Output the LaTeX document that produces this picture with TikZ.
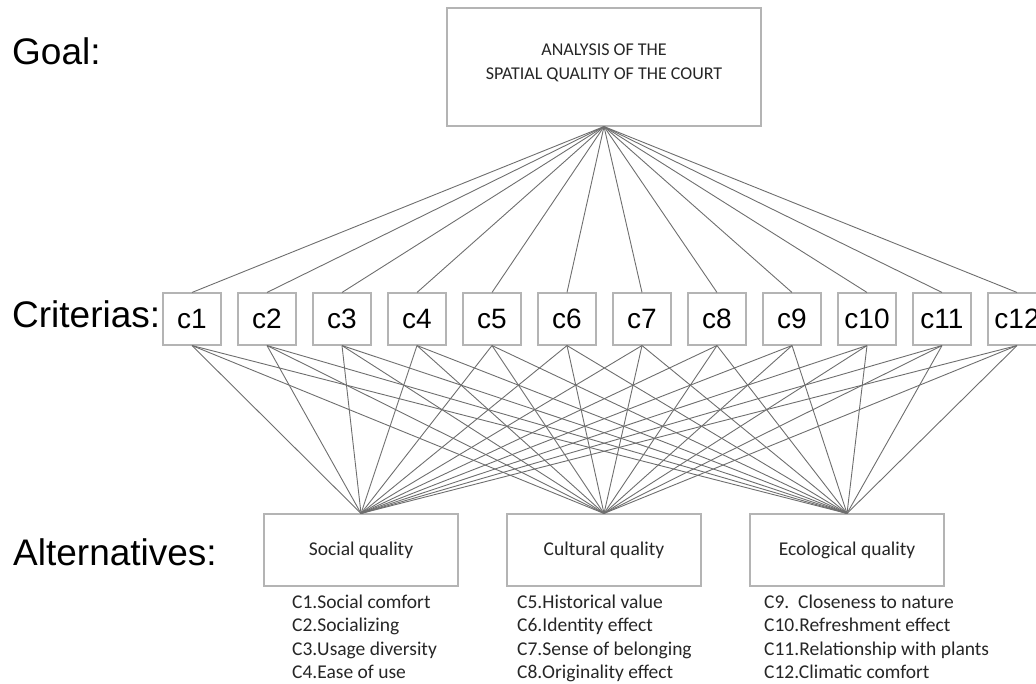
\documentclass[tikz,border=0pt]{standalone}
\usepackage{fontspec}
\setmainfont{Carlito}
\newfontfamily\arialf{Liberation Sans}
\definecolor{boxgray}{HTML}{B4B4B4}
\definecolor{linegray}{HTML}{6E6E6E}
\definecolor{txtgray}{HTML}{262626}
\begin{document}
\begin{tikzpicture}[x=1pt,y=-1pt,
  box/.style={draw=boxgray, line width=1.1pt, inner sep=0pt, fill=white},
  critbox/.style={box, minimum width=58pt, minimum height=52pt, font=\arialf\fontsize{28}{30}\selectfont},
  altbox/.style={box, minimum width=194pt, minimum height=72pt, font=\fontsize{19.5}{22}\selectfont, text=txtgray},
  conn/.style={draw=linegray, line width=0.9pt},
  lab/.style={font=\arialf\fontsize{37}{44}\selectfont, anchor=base west, inner sep=0pt},
  item/.style={font=\fontsize{19.5}{22}\selectfont, text=txtgray, anchor=base west, inner sep=0pt},
  goaltxt/.style={font=\fontsize{18}{24}\selectfont, text=txtgray, anchor=base, inner sep=0pt}]
\useasboundingbox (0,0) rectangle (1036,683);

% level labels
\node[lab] (lgoal) at (12,64) {Goal:};
\node[lab] (lcrit) at (12,327) {Criterias:};
\node[lab] (lalt) at (13,565) {Alternatives:};

% goal
\node[box, minimum width=314pt, minimum height=118pt] (goal) at (604,67) {};
\node[goaltxt] (gt1) at (604,55) {ANALYSIS OF THE};
\node[goaltxt] (gt2) at (604,79) {SPATIAL QUALITY OF THE COURT};

% alternatives
\node[altbox] (soc) at (361,550) {Social quality};
\node[altbox] (cul) at (604,550) {Cultural quality};
\node[altbox] (eco) at (847,550) {Ecological quality};

% criteria
\foreach \i in {1,...,12}{
  \node[critbox] (c\i) at ({192+75*(\i-1)},319) {c\i};
}

% connectors
\foreach \i in {1,...,12}{
  \draw[conn] (goal.south) -- (c\i.north);
  \draw[conn] (c\i.south) -- (soc.north);
  \draw[conn] (c\i.south) -- (cul.north);
  \draw[conn] (c\i.south) -- (eco.north);
}

% lists
\node[item] (s1) at (292,608) {C1.Social comfort};
\node[item] (s2) at (292,631.5) {C2.Socializing};
\node[item] (s3) at (292,655) {C3.Usage diversity};
\node[item] (s4) at (292,678.5) {C4.Ease of use};
\node[item] (k1) at (517,608) {C5.Historical value};
\node[item] (k2) at (517,631.5) {C6.Identity effect};
\node[item] (k3) at (517,655) {C7.Sense of belonging};
\node[item] (k4) at (517,678.5) {C8.Originality effect};
\node[item] (e1) at (764,608) {C9.\ \ Closeness to nature};
\node[item] (e2) at (764,631.5) {C10.Refreshment effect};
\node[item] (e3) at (764,655) {C11.Relationship with plants};
\node[item] (e4) at (764,678.5) {C12.Climatic comfort};
\end{tikzpicture}
\end{document}
